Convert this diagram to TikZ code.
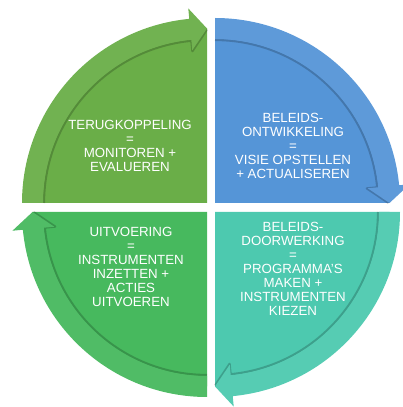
\documentclass[tikz,border=0pt]{standalone}
\usepackage{fontspec}
\setmainfont{Liberation Sans}
\definecolor{cA}{HTML}{6AAE48}
\definecolor{cB}{HTML}{5595D7}
\definecolor{cC}{HTML}{4DC9AF}
\definecolor{cD}{HTML}{47B95E}
\def\Rout{185}
\def\Rin{164}
\def\RinS{163}
\def\Rmid{174.5}
\def\RmidS{173.5}
\def\Hout{195.5}
\def\Hin{153.5}
\def\HinS{152.5}
\def\Hd{5.5}
\newcommand\arrowquad[3]{%
\begin{scope}[shift={(#1)}]
 \pgfmathsetmacro\qe{#2-90}
 \pgfmathsetmacro\qb{#2-90+\Hd}
 \fill[#3] (0,0) -- (#2:\Rmid) arc[start angle=#2,end angle=\qe,radius=\Rmid] -- cycle;
 \draw[black,opacity=0.2,line width=2.2pt,line join=round] (#2:\RinS) arc[start angle=#2,end angle=\qb,radius=\RinS] -- (\qb:\HinS) -- (\qe:\RmidS);
 \fill[#3!95!white] (#2:\Rout) arc[start angle=#2,end angle=\qb,radius=\Rout] -- (\qb:\Hout) -- (\qe:\Rmid) -- (\qb:\Hin) -- (\qb:\Rin) arc[start angle=\qb,end angle=#2,radius=\Rin] -- cycle;
\end{scope}}
\tikzset{txt/.style={text=white,font=\fontsize{13.3}{14}\selectfont,align=center,inner sep=0pt}}
\begin{document}
\begin{tikzpicture}[x=1pt,y=1pt]
\useasboundingbox (0,0) rectangle (403,407);
\begin{scope}
\clip (0,0) rectangle (403,407);
\arrowquad{207,204}{180}{cA}
\arrowquad{215,204}{90}{cB}
\arrowquad{215,195}{0}{cC}
\arrowquad{207,195}{270}{cD}
\end{scope}
\node[txt] (t1) at (130,261) {TERUGKOPPELING\\=\\MONITOREN +\\EVALUEREN};
\node[txt] (t2) at (293,261) {BELEIDS-\\ONTWIKKELING\\=\\VISIE OPSTELLEN\\+ ACTUALISEREN};
\node[txt] (t3) at (293,138.5) {BELEIDS-\\DOORWERKING\\=\\PROGRAMMA'S\\MAKEN +\\INSTRUMENTEN\\KIEZEN};
\node[txt] (t4) at (131,140) {UITVOERING\\=\\INSTRUMENTEN\\INZETTEN +\\ACTIES\\UITVOEREN};
\end{tikzpicture}
\end{document}
